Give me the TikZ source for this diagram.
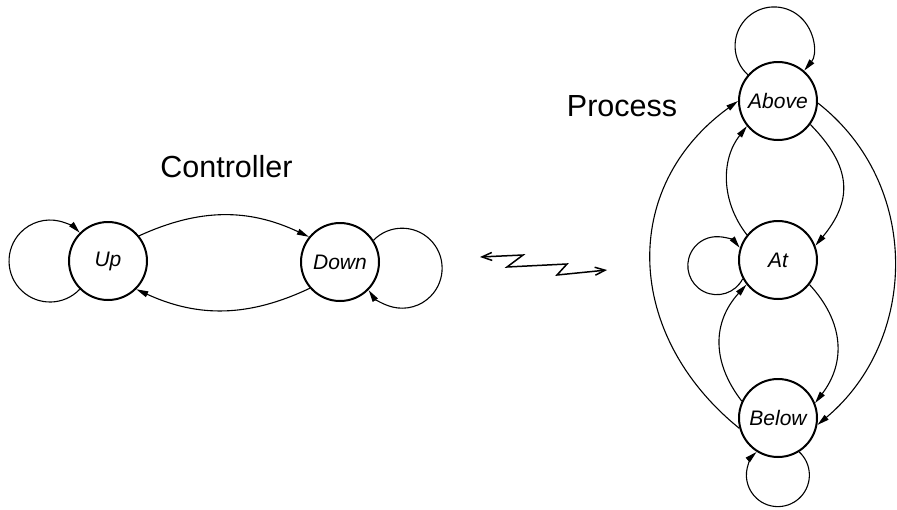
\documentclass[tikz,border=0pt]{standalone}
\usepackage{fontspec}
\setmainfont{Liberation Sans}
\usetikzlibrary{arrows.meta}
\tikzset{
  state/.style={circle, draw, line width=2pt, minimum size=78pt, inner sep=0pt,
                font=\fontsize{21}{25}\selectfont\itshape},
  edge/.style={line width=1.1pt, -{Triangle[length=12pt,width=6pt]}},
  title/.style={font=\fontsize{30.5}{36}\selectfont, inner sep=0pt},
  zig/.style={line width=1.5pt, {Straight Barb[length=10pt,width=8pt]}-{Straight Barb[length=10pt,width=8pt]}}
}
\begin{document}
\begin{tikzpicture}[x=1pt,y=1pt]
\useasboundingbox (0,0) rectangle (897,-509);

% Controller automaton
\node[state] (up) at (108,-261) {Up};
\node[state] (down) at (340,-262) {Down};
\node[title, anchor=base] (ctl) at (226.5,-177) {Controller};

\draw[edge] (up.39) to[bend left=25] (down.141);
\draw[edge] (down.221) to[bend left=25] (up.315);
\draw[edge] (up.225) arc[start angle=-43.6, end angle=-316.4, radius=41pt];
\draw[edge] (down.33.4) arc[start angle=135.6, end angle=-146.6, radius=40pt];

% communication link
\coordinate (zl) at (480,-257);
\coordinate (zr) at (607,-270);
\draw[zig] (zl) -- (523,-255) -- (507,-267) -- (567,-264) -- (557,-275) -- (zr);

% Process automaton
\node[state] (above) at (778,-101) {Above};
\node[state] (at) at (778,-260) {At};
\node[state] (below) at (778,-418) {Below};
\node[title, anchor=base] (proc) at (622,-116) {Process};

\draw[edge] (above.139.2) arc[start angle=227.7, end angle=-39.3, radius=39pt];
\draw[edge] (at.208.5) arc[start angle=-26.9, end angle=-321.9, radius=29pt];
\draw[edge] (below.302.3) arc[start angle=47.4, end angle=-227.4, radius=31.5pt];

\draw[edge] (above.-36) to[bend left=42, looseness=1.25] (at.21);
\draw[edge] (at.141) to[bend left=38] (above.219);
\draw[edge] (at.-38) to[bend left=40, looseness=1.1] (below.22);
\draw[edge] (below.155) to[bend left=40, looseness=1.1] (at.218);
\draw[edge] (below.195) to[out=141, in=216, looseness=1.15] (above.180);
\draw[edge] (above.-3) to[out=-38, in=40, looseness=1.05] (below.-10);
\end{tikzpicture}
\end{document}
